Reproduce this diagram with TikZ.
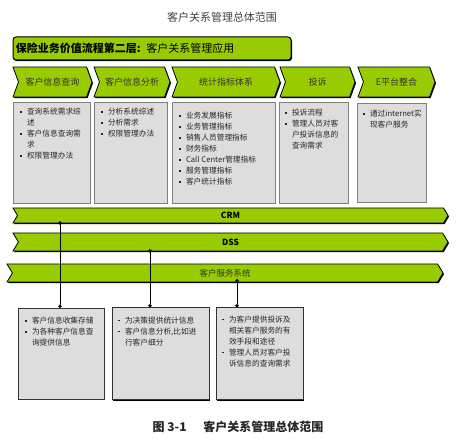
\documentclass[tikz,border=0pt]{standalone}
\usepackage{fontspec}
\setmainfont{Noto Sans CJK SC}
\usepackage{tikz}
\usetikzlibrary{shadows, shapes.symbols, positioning, arrows.meta}
\definecolor{crmgreen}{RGB}{153,204,0}
\definecolor{boxgray}{RGB}{221,221,221}
\newcommand{\bul}{\makebox[7pt][l]{\rule[1.6pt]{1.8pt}{1.8pt}}}
\newcommand{\ind}{\hspace*{7pt}}

\begin{document}
\begin{tikzpicture}[
        x=1pt, y=-1pt,
        every node/.style={inner sep=0pt, outer sep=0pt},
        blackshadow/.style={drop shadow={shadow xshift=1pt, shadow yshift=-1.2pt, fill=black, opacity=1}},
        header/.style={rectangle, draw, rounded corners=3pt, fill=crmgreen, line width=1pt, minimum width=278pt, minimum height=23pt, blackshadow, anchor=north west, text width=272pt, align=left, font=\fontsize{11}{13}\selectfont},
        chevron/.style={signal, signal from=west, signal to=east, signal pointer angle=140, draw, line width=0.8pt, fill=crmgreen, minimum height=30pt, blackshadow, font=\fontsize{9}{11}\selectfont, text=black!80},
        band/.style={signal, signal from=west, signal to=east, signal pointer angle=118, draw, line width=0.8pt, fill=crmgreen, minimum width=435pt, blackshadow, font=\fontsize{8.5}{10}\selectfont},
        infobox/.style={rectangle, draw=black!50, fill=boxgray, line width=0.6pt, blackshadow},
        info/.style={anchor=north west, align=left, font=\fontsize{7.7}{11}\selectfont, text=black!85},
        link/.style={{Circle[length=3.5pt]}-{Circle[length=3.5pt]}, line width=1pt}
    ]
    \useasboundingbox (0,0) rectangle (456,441);
%
    % Titre
    \node[font=\fontsize{11}{13}\selectfont, text=black!75] (title) at (222,17) {客户关系管理总体范围};
%
    % Niveau 1 : bandeau
    \node[header] (layer) at (13,37) {{\bfseries 保险业务价值流程第二层:} 客户关系管理应用};
%
    % Niveau 2 : processus
    \node[chevron, minimum width=79pt] (query) at (52.5,82) {客户信息查询};
    \node[chevron, minimum width=76pt] (analysis) at (132,82) {客户信息分析};
    \node[chevron, minimum width=108pt] (stats) at (226,82) {统计指标体系};
    \node[chevron, minimum width=75pt] (complaint) at (317.5,82) {投诉};
    \node[chevron, minimum width=77pt] (eplat) at (396.5,82) {E平台整合};
%
    % Niveau 3 : contenus
    \node[infobox, minimum width=77pt, minimum height=101pt, anchor=north west] (b1) at (13,102) {};
    \node[infobox, minimum width=73pt, minimum height=101pt, right=4pt of b1] (b2) {};
    \node[infobox, minimum width=103pt, minimum height=101pt, right=5pt of b2] (b3) {};
    \node[infobox, minimum width=69pt, minimum height=101pt, right=4pt of b3] (b4) {};
    \node[infobox, minimum width=69pt, minimum height=99pt, right=9pt of b4] (b5) {};
%
    \node[info] (t1) at ([shift={(7,6)}]b1.north west) {\bul 查询系统需求综\\\ind 述\\\bul 客户信息查询需\\\ind 求\\\bul 权限管理办法};
    \node[info] (t2) at ([shift={(7,6)}]b2.north west) {\bul 分析系统综述\\\bul 分析需求\\\bul 权限管理办法};
    \node[info] (t3) at ([shift={(7,10)}]b3.north west) {\bul 业务发展指标\\\bul 业务管理指标\\\bul 销售人员管理指标\\\bul 财务指标\\\bul Call Center管理指标\\\bul 服务管理指标\\\bul 客户统计指标};
    \node[info] (t4) at ([shift={(6,7)}]b4.north west) {\bul 投诉流程\\\bul 管理人员对客\\\ind 户投诉信息的\\\ind 查询需求};
    \node[info] (t5) at ([shift={(6,7)}]b5.north west) {\bul 通过internet实\\\ind 现客户服务};
%
    % Niveau 4 : systemes
    \node[band, minimum height=15pt] (crm) at (230.5,215.5) {\bfseries CRM};
    \node[band, minimum height=18pt] (dss) at (230.5,242) {\bfseries DSS};
    \node[band, minimum height=18pt, minimum width=436pt, text=black!80] (serv) at (225,273) {客户服务系统};
%
    % Niveau 5 : fonctions
    \node[infobox, draw=black!80, minimum width=86pt, minimum height=91pt, anchor=north west] (s1) at (18,308) {};
    \node[infobox, draw=black!80, minimum width=97pt, minimum height=92pt, right=8pt of s1] (s2) {};
    \node[infobox, draw=black!80, minimum width=87pt, minimum height=92pt, right=7pt of s2] (s3) {};
%
    \node[info] (u1) at ([shift={(7,9)}]s1.north west) {\bul 客户信息收集存储\\\bul 为各种客户信息查\\\ind 询提供信息};
    \node[info] (u2) at ([shift={(6,9)}]s2.north west) {\bul 为决策提供统计信息\\\bul 客户信息分析,比如进\\\ind 行客户细分};
    \node[info] (u3) at ([shift={(6,8)}]s3.north west) {\bul 为客户提供投诉及\\\ind 相关客户服务的有\\\ind 效手段和途径\\\bul 管理人员对客户投\\\ind 诉信息的查询需求};
%
    % Liens systemes a fonctions
    \draw[link] ([xshift=-1pt, yshift=1.75pt]s1.north |- crm.south) -- ([xshift=-1pt]s1.north);
    \draw[link] ([xshift=-10.5pt, yshift=1.75pt]s2.north |- dss.south) -- ([xshift=-10.5pt]s2.north);
    \draw[link] ([xshift=-22.5pt, yshift=3pt]s3.north |- serv.south) -- ([xshift=-22.5pt]s3.north);
%
    % Legende
    \node[font=\fontsize{12}{14}\selectfont\bfseries, text=black!85] (caption) at (238,427) {图 3-1\hspace{1.4em}客户关系管理总体范围};
%
\end{tikzpicture}
\end{document}
